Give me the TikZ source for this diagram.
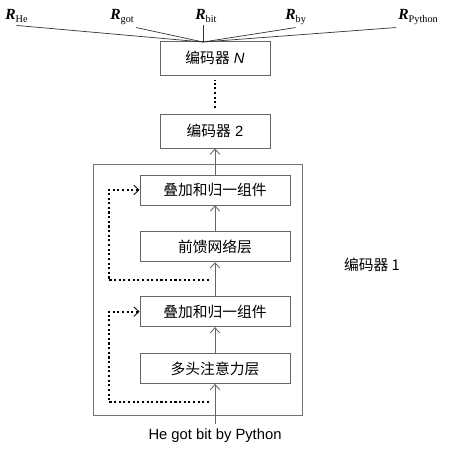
\documentclass[tikz,border=0pt]{standalone}
\usepackage{fontspec}
\setmainfont{Liberation Sans}
\newfontfamily\cjk{Noto Sans CJK SC}
\newfontfamily\tnr{Liberation Serif}
\usetikzlibrary{arrows.meta, positioning, calc}
\newcommand{\rsub}[1]{{\tnr\bfseries\itshape R}\raisebox{-2.8pt}{\tnr\fontsize{7.3}{8}\selectfont #1}}

\begin{document}
\begin{tikzpicture}[
    x=0.025cm, y=-0.025cm,
    every node/.style={font=\fontsize{10.5}{12}\selectfont},
    blk/.style={rectangle, draw=black!60, line width=0.6pt,
                minimum width=3.75cm, minimum height=0.75cm,
                font=\cjk\fontsize{10.5}{12}\selectfont},
    enc/.style={rectangle, draw=black!60, line width=0.6pt,
                minimum width=2.75cm, minimum height=0.85cm},
    outer/.style={rectangle, draw=black!55, line width=0.7pt,
                  minimum width=5.2cm, minimum height=6.25cm},
    rlab/.style={anchor=base west, inner sep=1.5pt, font=\fontsize{11}{12}\selectfont},
    arr/.style={-{Straight Barb[length=1.3mm, width=2.4mm]}, draw=black!60, line width=0.6pt},
    resid/.style={dash pattern=on 1.5pt off 1.8pt, line width=1.5pt,
                  -{Straight Barb[length=1.3mm, width=2.4mm, line width=0.6pt]}},
    dotsv/.style={dash pattern=on 1.5pt off 1.8pt, line width=1.5pt},
    fan/.style={draw=black!80, line width=0.5pt}
]
    \useasboundingbox (0,0) rectangle (458,450);

    \node[outer]                     (enc1) at (198,290) {};
    \node[blk]                       (mha)  at (215,368.5) {多头注意力层};
    \node[blk, above=0.65cm of mha]  (add1) {叠加和归一组件};
    \node[blk, above=0.85cm of add1] (ffn)  {前馈网络层};
    \node[blk, above=0.65cm of ffn]  (add2) {叠加和归一组件};
    \node[enc, above=0.65cm of add2] (enc2) {{\cjk 编码器} 2};
    \node[enc, above=0.95cm of enc2] (encN) {{\cjk 编码器} \textit{N}};
    \node[font=\cjk\fontsize{10.5}{12}\selectfont] (lab1) at (372,265) {编码器 1};
    \node (inp) at (215,436) {He got bit by Python};

    \node[rlab] (rhe)  at (3,19)   {\rsub{He}};
    \node[rlab] (rgot) at (108,19) {\rsub{got}};
    \node[rlab] (rbit) at (193,19) {\rsub{bit}};
    \node[rlab] (rby)  at (283,19) {\rsub{by}};
    \node[rlab] (rpy)  at (396,19) {\rsub{Python}};
    \coordinate (hub) at (203,42);

    \draw[arr] (inp)  -- (mha);
    \draw[arr] (mha)  -- (add1);
    \draw[arr] (add1) -- (ffn);
    \draw[arr] (ffn)  -- (add2);
    \draw[arr] (add2) -- (enc2);
    \draw[dotsv, shorten <=4pt, shorten >=3pt] (enc2) -- (encN);

    \coordinate (res1) at ($(mha.south)+(-6,18)$);
    \coordinate (res2) at ($(ffn.south)+(-6,18)$);
    \draw[resid] (res1) -| ($(add1.west)+(-31,0)$) -- (add1.west);
    \draw[resid] (res2) -| ($(add2.west)+(-31,0)$) -- (add2.west);

    \draw[fan] (hub) -- (rhe.south);
    \draw[fan] (hub) -- (rgot.south east);
    \draw[fan] (hub) -- (hub |- rbit.south);
    \draw[fan] (hub) -- (rby.south);
    \draw[fan] (hub) -- (rpy.south west);
\end{tikzpicture}
\end{document}
